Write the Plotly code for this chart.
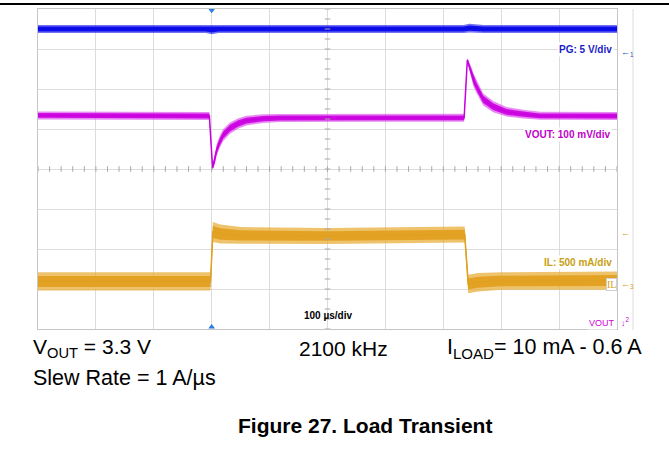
import plotly.graph_objects as go
import numpy as np

# ---- data read from the scope shot (time in µs, 100 µs/div; amplitude in screen divisions, centre = 0)
t_pg = [0, 290, 300, 312, 735, 745, 770, 1000]
pg_mid = [3.50, 3.50, 3.48, 3.50, 3.50, 3.52, 3.50, 3.50]
pg_hw = [0.10, 0.10, 0.11, 0.10, 0.10, 0.11, 0.10, 0.10]

t_vout = [0, 295, 296, 301.5, 305.7, 308.6, 314, 320, 331.6, 346, 360, 389, 418, 600,
          736, 741.5, 749, 752, 758, 769, 786, 809, 838, 867, 1000]
vout_mid = [1.34, 1.34, 1.325, 0.025, 0.25, 0.475, 0.68, 0.85, 1.02, 1.14, 1.21, 1.26, 1.275, 1.28,
            1.28, 2.725, 2.39, 2.225, 2.04, 1.74, 1.56, 1.43, 1.37, 1.33, 1.325]
vout_hw = [0.10, 0.10, 0.10, 0.05, 0.12, 0.15, 0.15, 0.15, 0.14, 0.13, 0.12, 0.11, 0.10, 0.10,
           0.10, 0.05, 0.14, 0.16, 0.16, 0.15, 0.14, 0.12, 0.11, 0.10, 0.10]

t_il = [0, 298, 302, 315, 350, 500, 735, 737, 743, 760, 800, 1000]
il_mid = [-2.81, -2.81, -1.575, -1.625, -1.66, -1.675, -1.64, -1.64, -2.875, -2.83, -2.80, -2.79]
il_hw = [0.23, 0.23, 0.25, 0.24, 0.21, 0.20, 0.20, 0.20, 0.23, 0.23, 0.22, 0.23]

trigger_t = [300, 300]
trigger_y = [3.97, -3.95]

W, H = 669, 455
PX0, PX1, PY0, PY1 = 38, 617, 9, 329


def tx(px):
    return (px - PX0) * 1000.0 / (PX1 - PX0)


def ty(py):
    return (169 - py) / 40.0


fig = go.Figure()


def band(t, mid, hw, outer, inner, line_col, lw):
    t = np.array(t, float)
    mid = np.array(mid, float)
    hw = np.array(hw, float)
    for k, col in ((1.0, outer), (0.6, inner)):
        fig.add_trace(go.Scatter(x=t, y=mid - hw * k, mode='lines', line=dict(width=0),
                                 hoverinfo='skip'))
        fig.add_trace(go.Scatter(x=t, y=mid + hw * k, mode='lines', line=dict(width=0),
                                 fill='tonexty', fillcolor=col, hoverinfo='skip'))
    fig.add_trace(go.Scatter(x=t, y=mid, mode='lines', line=dict(color=line_col, width=lw),
                             hoverinfo='skip'))


band(t_pg, pg_mid, pg_hw, 'rgba(40,40,235,0.65)', 'rgba(10,10,235,0.95)', '#0a0ae6', 1.5)
band(t_vout, vout_mid, vout_hw, 'rgba(215,60,235,0.6)', 'rgba(205,0,225,0.92)', '#c800e0', 1.5)
band(t_il, il_mid, il_hw, 'rgba(232,170,45,0.7)', 'rgba(226,160,30,0.92)', '#e0a020', 1.5)

# centre-line minor ticks
hx = np.arange(0, 1001, 20)
fig.add_trace(go.Scatter(x=hx, y=[0] * len(hx), mode='markers', hoverinfo='skip',
                         marker=dict(symbol='line-ns', size=4, line=dict(color='#a8a8a8', width=1))))
vy = np.arange(-4, 4.01, 0.25)
fig.add_trace(go.Scatter(x=[500] * len(vy), y=vy, mode='markers', hoverinfo='skip',
                         marker=dict(symbol='line-ew', size=4, line=dict(color='#a8a8a8', width=1))))

# trigger markers
fig.add_trace(go.Scatter(x=trigger_t, y=trigger_y, mode='markers', cliponaxis=False, hoverinfo='skip',
                         marker=dict(symbol=['triangle-down', 'triangle-up'], size=6, color='#2a7de1')))

axis_common = dict(showgrid=True, gridcolor='#dcdcdc', gridwidth=1, showline=True, mirror=True,
                   linecolor='#c6c6c6', linewidth=1, zeroline=False, showticklabels=False, ticks='')
fig.update_layout(
    width=W, height=H, margin=dict(l=0, r=0, t=0, b=0, pad=0),
    paper_bgcolor='white', plot_bgcolor='white', showlegend=False, hovermode=False,
    xaxis=dict(domain=[PX0 / W, PX1 / W], range=[0, 1000], dtick=100, **axis_common),
    yaxis=dict(domain=[1 - PY1 / H, 1 - PY0 / H], range=[-4, 4], dtick=1, **axis_common),
)

# decorative lines
fig.add_shape(type='line', xref='paper', yref='paper', x0=0, x1=1, y0=1 - 4 / H, y1=1 - 4 / H,
              line=dict(color='black', width=2), layer='above')
fig.add_shape(type='line', xref='paper', yref='paper', x0=633 / W, x1=633 / W,
              y0=1 - 330 / H, y1=1 - 9 / H, line=dict(color='#dcdcdc', width=1))

F = 'Arial, Liberation Sans, sans-serif'
inplot = [
    ('<b>PG: 5 V/div</b>', 614, 49, '#1c1cc8'),
    ('<b>VOUT: 100 mV/div</b>', 612, 134, '#c000c8'),
    ('<b>IL: 500 mA/div</b>', 614, 262, '#c8a010'),
]
for txt, px, py, col in inplot:
    fig.add_annotation(x=tx(px), y=ty(py), xref='x', yref='y', text=txt, showarrow=False,
                       xanchor='right', yanchor='middle', font=dict(family=F, size=10, color=col),
                       bgcolor='white', borderpad=1)

fig.add_annotation(x=tx(328), y=ty(315), xref='x', yref='y', text='<b>100 µs/div</b>', showarrow=False,
                   xanchor='center', yanchor='middle', font=dict(family=F, size=10, color='black'))
fig.add_annotation(x=1000, y=ty(284), xref='x', yref='y', text='IL', showarrow=False,
                   xanchor='right', yanchor='middle',
                   font=dict(family='Liberation Serif, serif', size=10, color='#d8a020'),
                   bgcolor='white', bordercolor='#d0d0d0', borderwidth=1, borderpad=0)
fig.add_annotation(x=1000, y=ty(323), xref='x', yref='y', text='VOUT', showarrow=False,
                   xanchor='right', yanchor='middle', font=dict(family=F, size=9, color='#d000d8'),
                   bgcolor='white', borderpad=1)

# right-hand channel markers
markers = [('←<sub>1</sub>', 52, '#2a50c8'), ('←', 233, '#d8a020'), ('←<sub>3</sub>', 284, '#d8a020'),
           ('↓<sup>2</sup>', 322, '#c000d0')]
for txt, py, col in markers:
    fig.add_annotation(x=619 / W, y=1 - py / H, xref='paper', yref='paper', text=txt, showarrow=False,
                       xanchor='left', yanchor='middle', font=dict(family=F, size=9, color=col))

# caption texts
caps = [
    ('V<sub>OUT</sub> = 3.3 V', 31, 348, 'left', 21),
    ('2100 kHz', 297, 348, 'left', 21),
    ('I<sub>LOAD</sub>= 10 mA - 0.6 A', 445, 348, 'left', 21.5),
    ('Slew Rate = 1 A/µs', 31, 378, 'left', 21.5),
    ('<b>Figure 27. Load Transient</b>', 365, 425, 'center', 21),
]
for txt, px, py, xa, sz in caps:
    fig.add_annotation(x=px / W, y=1 - py / H, xref='paper', yref='paper', text=txt, showarrow=False,
                       xanchor=xa, yanchor='middle', font=dict(family=F, size=sz, color='black'))

fig.write_html('out.html', config={'displayModeBar': False},
               post_script="document.body.style.margin='0';")
